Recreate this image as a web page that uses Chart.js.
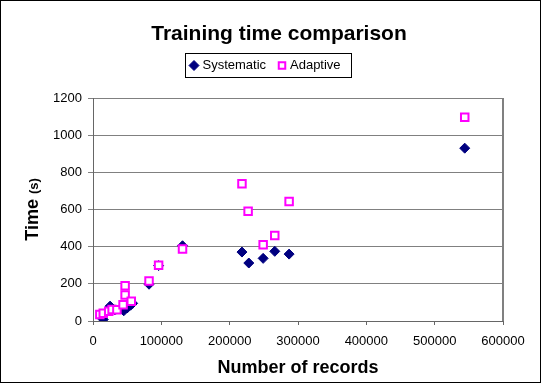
<!DOCTYPE html>
<html><head><meta charset="utf-8">
<script src="https://cdn.jsdelivr.net/npm/chart.js@4"></script>
<style>html,body{margin:0;padding:0;background:#fff;}canvas{display:block;}</style>
</head><body>
<canvas id="c" width="541" height="383"></canvas>
<script>
const chartTitle = 'Training time comparison';
const xAxisTitle = 'Number of records';
const yAxisTitleMain = 'Time';
const yAxisTitleUnit = '(s)';
const seriesNames = ['Systematic', 'Adaptive'];

const systematicX = [15000, 22000, 25000, 32000, 40000, 45000, 50000, 55000, 58000, 82000, 96000, 131000, 218000, 228000, 249000, 266000, 287000, 544000];
const systematicY = [8, 55, 80, 60, 65, 55, 70, 85, 95, 198, 298, 405, 371, 312, 337, 375, 360, 930];

const adaptiveX = [10000, 15000, 23000, 28000, 35000, 44000, 47000, 47000, 56000, 82000, 96000, 131000, 218000, 227000, 249000, 266000, 287000, 544000];
const adaptiveY = [35, 42, 52, 62, 60, 88, 140, 190, 106, 215, 300, 388, 738, 591, 410, 460, 643, 1097];

const xTicks = [0, 100000, 200000, 300000, 400000, 500000, 600000];
const yTicks = [0, 200, 400, 600, 800, 1000, 1200];

const FONT = "'Liberation Sans', Arial, Helvetica, sans-serif";

const decor = {
  id: 'decor',
  beforeDraw(chart) {
    const ctx = chart.ctx;
    ctx.save();
    ctx.fillStyle = '#ffffff';
    ctx.fillRect(0, 0, chart.width, chart.height);
    ctx.restore();
  },
  afterDraw(chart) {
    const ctx = chart.ctx;
    const a = chart.chartArea;
    ctx.save();
    // plot area right border
    ctx.strokeStyle = '#808080';
    ctx.lineWidth = 2;
    ctx.beginPath();
    ctx.moveTo(a.right, a.top);
    ctx.lineTo(a.right, a.bottom);
    ctx.stroke();
    // title
    ctx.fillStyle = '#000';
    ctx.font = 'bold 21px ' + FONT;
    ctx.textAlign = 'center';
    ctx.textBaseline = 'alphabetic';
    ctx.fillText(chartTitle, 279, 40);
    // y axis title
    ctx.save();
    ctx.translate(38, (a.top + a.bottom) / 2);
    ctx.rotate(-Math.PI / 2);
    ctx.textAlign = 'left';
    ctx.font = 'bold 18px ' + FONT;
    const w1 = ctx.measureText(yAxisTitleMain + ' ').width;
    ctx.font = 'bold 13px ' + FONT;
    const w2 = ctx.measureText(yAxisTitleUnit).width;
    let sx = -(w1 + w2) / 2;
    ctx.font = 'bold 18px ' + FONT;
    ctx.fillText(yAxisTitleMain + ' ', sx, 0);
    ctx.font = 'bold 13px ' + FONT;
    ctx.fillText(yAxisTitleUnit, sx + w1, 0);
    ctx.restore();
    // legend
    ctx.strokeStyle = '#000';
    ctx.lineWidth = 1;
    ctx.strokeRect(185.5, 53.5, 166, 24);
    const ds = chart.data.datasets;
    const ly = 65.5;
    ctx.fillStyle = ds[0].backgroundColor;
    ctx.strokeStyle = ds[0].borderColor;
    ctx.lineWidth = 1;
    Chart.helpers.drawPoint(ctx, {pointStyle: 'rectRot', radius: 5, borderWidth: 1}, 194, ly);
    ctx.fillStyle = ds[1].backgroundColor;
    ctx.strokeStyle = ds[1].borderColor;
    ctx.lineWidth = 2;
    Chart.helpers.drawPoint(ctx, {pointStyle: 'rect', radius: 4.6, borderWidth: 2}, 282, ly);
    ctx.fillStyle = '#000';
    ctx.font = '13px ' + FONT;
    ctx.textAlign = 'left';
    ctx.textBaseline = 'middle';
    ctx.fillText(seriesNames[0], 202.5, ly);
    ctx.fillText(seriesNames[1], 290, ly);
    // outer border
    ctx.strokeStyle = '#000';
    ctx.lineWidth = 1;
    ctx.strokeRect(0.5, 0.5, chart.width - 1, chart.height - 1);
    ctx.restore();
  }
};

new Chart(document.getElementById('c'), {
  type: 'scatter',
  data: {
    datasets: [
      {
        label: seriesNames[0],
        data: systematicX.map((x, i) => ({x: x, y: systematicY[i]})),
        pointStyle: 'rectRot',
        pointRadius: 5,
        backgroundColor: '#000080',
        borderColor: '#000080',
        borderWidth: 1,
        order: 1
      },
      {
        label: seriesNames[1],
        data: adaptiveX.map((x, i) => ({x: x, y: adaptiveY[i]})),
        pointStyle: 'rect',
        pointRadius: 5.3,
        backgroundColor: '#ffffff',
        borderColor: '#ff00ff',
        borderWidth: 2,
        order: 0
      }
    ]
  },
  options: {
    responsive: false,
    animation: false,
    devicePixelRatio: 1,
    layout: {padding: {top: 98, right: 38, bottom: 0, left: 0}},
    plugins: {legend: {display: false}, title: {display: false}, tooltip: {enabled: false}},
    scales: {
      x: {
        type: 'linear',
        min: 0, max: 600000,
        afterBuildTicks: s => { s.ticks = xTicks.map(v => ({value: v})); },
        ticks: {font: {family: FONT, size: 13}, color: '#000', padding: 9, maxRotation: 0, autoSkip: false, callback: v => String(v)},
        grid: {drawOnChartArea: false, drawTicks: true, tickLength: 4, color: '#666'},
        border: {color: '#666', width: 1},
        title: {display: true, text: xAxisTitle, font: {family: FONT, size: 18, weight: 'bold'}, color: '#000', padding: {top: 0, bottom: 4}},
        afterFit: s => { s.height = 62; }
      },
      y: {
        type: 'linear',
        min: 0, max: 1200,
        afterBuildTicks: s => { s.ticks = yTicks.map(v => ({value: v})); },
        ticks: {font: {family: FONT, size: 13}, color: '#000', padding: 6, autoSkip: false, callback: v => String(v)},
        grid: {color: '#808080', tickLength: 5},
        border: {color: '#666', width: 1},
        afterFit: s => { s.width = 93; }
      }
    }
  },
  plugins: [decor]
});
</script>
</body></html>
